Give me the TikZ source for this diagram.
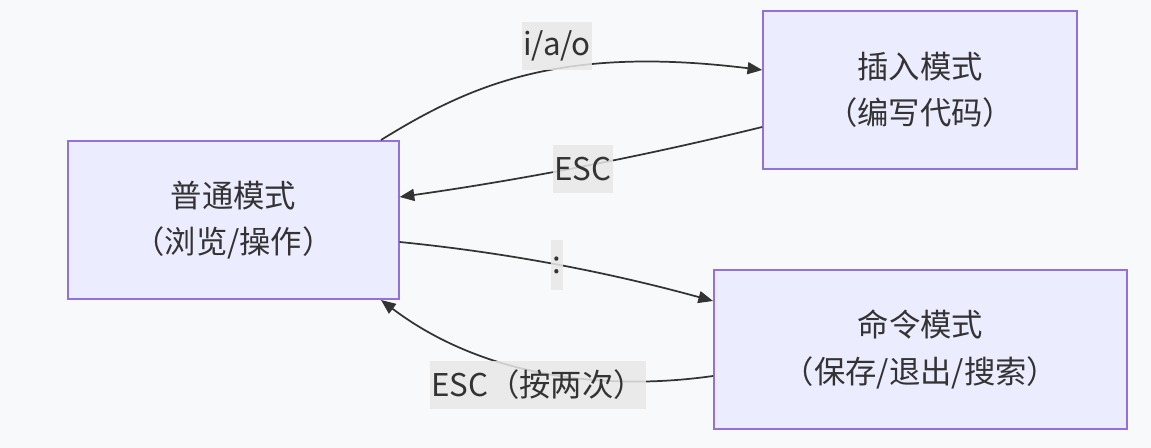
\documentclass[tikz,border=0pt]{standalone}
\usepackage{fontspec}
\setmainfont{Noto Sans CJK SC}
\usepackage{tikz}
\usetikzlibrary{arrows.meta}

\definecolor{bgcol}{HTML}{F8F9FB}
\definecolor{boxfill}{HTML}{ECECFF}
\definecolor{boxline}{HTML}{9370DB}
\definecolor{lblfill}{HTML}{E8E8E8}
\definecolor{linecol}{HTML}{333333}

\begin{document}
\begin{tikzpicture}[x=0.75pt, y=-0.75pt,
  mode/.style={draw=boxline, fill=boxfill, line width=1.2pt, align=center,
    font=\fontsize{23.5}{35}\selectfont, text=linecol, inner sep=0pt},
  lbl/.style={fill=lblfill, fill opacity=0.85, text opacity=1, text=linecol,
    font=\fontsize{23.5}{28}\selectfont, inner xsep=1pt, inner ysep=0pt, minimum height=36pt},
  trans/.style={draw=linecol, line width=1.3pt, -{Triangle[length=11pt, width=9pt]}}]
 \fill[bgcol] (0,0) rectangle (1151,448);
 \useasboundingbox (0,0) rectangle (1151,448);
 \node (normal) [mode, minimum width=248pt, minimum height=118.5pt] at (233.5,220) {普通模式\\（浏览/操作）};
 \node (insert) [mode, minimum width=235.5pt, minimum height=118.5pt] at (920,90) {插入模式\\（编写代码）};
 \node (command) [mode, minimum width=310pt, minimum height=119pt] at (920.5,349.5) {命令模式\\（保存/退出/搜索）};
 \coordinate (n-top) at (381,140);
 \coordinate (n-bot) at (381,300);
 \path[trans]
  (n-top) .. controls (470,85) and (560,45) .. (insert.west |- 0,70)
  ;
 \path[trans]
  (insert.west |- 0,127) .. controls (640,157) and (520,180) .. (normal.east |- 0,197)
  ;
 \path[trans]
  (normal.east |- 0,242) .. controls (500,252) and (600,270) .. (command.west |- 0,301)
  ;
 \path[trans]
  (command.west |- 0,376) .. controls (600,392) and (480,375) .. (n-bot)
  ;
 \node (l-ins) [lbl] at (557,46) {i/a/o};
 \node (l-esc) [lbl] at (583,169) {ESC};
 \node (l-col) [lbl, minimum height=37pt] at (557,265) {:};
 \node (l-esc2) [lbl] at (538,385) {ESC（按两次）};
\end{tikzpicture}
\end{document}
